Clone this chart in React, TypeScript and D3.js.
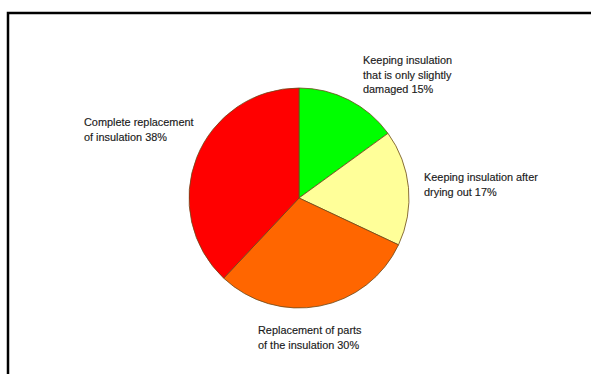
import React from "react";
import * as d3 from "d3";

const categories = [
  "Keeping insulation that is only slightly damaged",
  "Keeping insulation after drying out",
  "Replacement of parts of the insulation",
  "Complete replacement of insulation",
];
const values = [15, 17, 30, 38];
const colors = ["#00ff00", "#ffff99", "#ff6600", "#ff0000"];
const labelLines = [
  ["Keeping insulation", "that is only slightly", "damaged 15%"],
  ["Keeping insulation after", "drying out 17%"],
  ["Replacement of parts", "of the insulation 30%"],
  ["Complete replacement", "of insulation 38%"],
];
const labelPos = [
  [363, 64],
  [424, 181],
  [258, 334],
  [84, 126],
];

export default function App() {
  const W = 591, H = 374;
  const cx = 299, cy = 198, r = 110;
  const pie = d3.pie<number>().sort(null).value((d) => d);
  const arcs = pie(values);
  const arc = d3.arc<d3.PieArcDatum<number>>().innerRadius(0).outerRadius(r);
  return (
    <svg
      width={W}
      height={H}
      style={{ position: "fixed", left: 0, top: 0, background: "#fff" }}
    >
      <rect x={0} y={0} width={W} height={H} fill="#fff" />
      <path d={`M8,${H + 5} V13 H${W + 5}`} fill="none" stroke="#000" strokeWidth={2.5} />
      <g transform={`translate(${cx},${cy})`}>
        {arcs.map((a, i) => (
          <path
            key={categories[i]}
            d={arc(a) || ""}
            fill={colors[i]}
            stroke="#6b4a1a"
            strokeWidth={0.8}
          />
        ))}
      </g>
      {labelLines.map((lines, i) => (
        <text
          key={i}
          x={labelPos[i][0]}
          y={labelPos[i][1]}
          fontFamily="Liberation Sans, Arial, sans-serif"
          fontSize={10.9}
          fill="#1a1a1a"
          stroke="#1a1a1a"
          strokeWidth={0.15}
        >
          {lines.map((l, j) => (
            <tspan key={j} x={labelPos[i][0]} dy={j === 0 ? 0 : 14.5}>
              {l}
            </tspan>
          ))}
        </text>
      ))}
    </svg>
  );
}
